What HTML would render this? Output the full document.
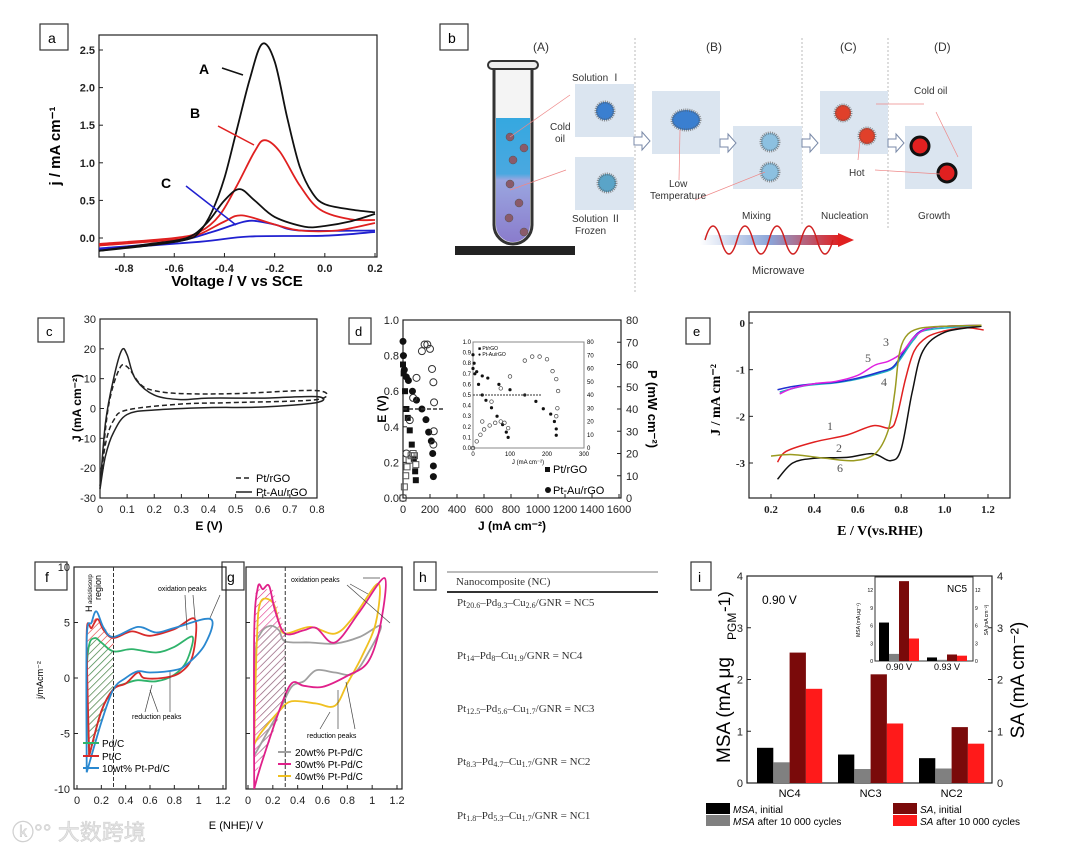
<!DOCTYPE html>
<html><head><meta charset="utf-8">
<style>
html,body{margin:0;padding:0;background:#fff;}
svg{display:block;font-family:"Liberation Sans","Noto Sans CJK SC",sans-serif;}
.ax{fill:none;stroke:#222;stroke-width:1.2}
.tk{font-size:11px;fill:#222}
.lbl{fill:#fff;stroke:#333;stroke-width:1.2}
</style></head>
<body>
<svg id="fig" width="1080" height="852" viewBox="0 0 1080 852">
<defs>
<pattern id="hg" width="5" height="5" patternUnits="userSpaceOnUse" patternTransform="rotate(45)"><line x1="0" y1="0" x2="0" y2="5" stroke="#2fb36b" stroke-width="1.2"/></pattern>
<pattern id="hr" width="5" height="5" patternUnits="userSpaceOnUse" patternTransform="rotate(45)"><line x1="0" y1="0" x2="0" y2="5" stroke="#e03030" stroke-width="1.2"/></pattern>
<pattern id="hk" width="5" height="5" patternUnits="userSpaceOnUse" patternTransform="rotate(45)"><line x1="0" y1="0" x2="0" y2="5" stroke="#888" stroke-width="1.2"/></pattern>
<pattern id="hm" width="5" height="5" patternUnits="userSpaceOnUse" patternTransform="rotate(45)"><line x1="0" y1="0" x2="0" y2="5" stroke="#e0308a" stroke-width="1.2"/></pattern>
<linearGradient id="mw" x1="0" x2="1"><stop offset="0" stop-color="#fff"/><stop offset="0.5" stop-color="#8aa4d8"/><stop offset="1" stop-color="#e02020"/></linearGradient>
<linearGradient id="tube" x1="0" x2="0" y1="0" y2="1"><stop offset="0" stop-color="#35a8e0"/><stop offset="0.45" stop-color="#4aa8e0"/><stop offset="0.5" stop-color="#9aa6e0"/><stop offset="1" stop-color="#8a7ccc"/></linearGradient>
</defs>

<!-- panel labels -->
<g>
<rect class="lbl" x="40" y="24" width="28" height="26"/><text x="48" y="43" font-size="14">a</text>
<rect class="lbl" x="440" y="24" width="28" height="26"/><text x="448" y="43" font-size="14">b</text>
<rect class="lbl" x="38" y="318" width="26" height="24"/><text x="46" y="336" font-size="13">c</text>
<rect class="lbl" x="349" y="318" width="22" height="26"/><text x="355" y="336" font-size="13">d</text>
<rect class="lbl" x="686" y="318" width="24" height="26"/><text x="693" y="336" font-size="13">e</text>
<rect class="lbl" x="35" y="562" width="32" height="28"/><text x="45" y="582" font-size="14">f</text>
<rect class="lbl" x="222" y="562" width="22" height="28"/><text x="227" y="582" font-size="14">g</text>
<rect class="lbl" x="414" y="562" width="22" height="28"/><text x="419" y="582" font-size="14">h</text>
<rect class="lbl" x="691" y="562" width="20" height="28"/><text x="698" y="582" font-size="14">i</text>
</g>

<!-- panel b schematic -->
<g id="pb" font-size="10" fill="#333">
<text x="533" y="51" font-size="12">(A)</text>
<text x="706" y="51" font-size="12">(B)</text>
<text x="840" y="51" font-size="12">(C)</text>
<text x="934" y="51" font-size="12">(D)</text>
<line x1="635" y1="38" x2="635" y2="292" stroke="#bbb" stroke-dasharray="2,2"/>
<line x1="802" y1="38" x2="802" y2="225" stroke="#bbb" stroke-dasharray="2,2"/>
<line x1="888" y1="38" x2="888" y2="230" stroke="#bbb" stroke-dasharray="2,2"/>
<rect x="455" y="246" width="120" height="9" fill="#222"/>
<path d="M494 68 L494 225 A19 19 0 0 0 532 225 L532 68 Z" fill="#f4f4f4" stroke="#333" stroke-width="3"/>
<path d="M496 118 L496 225 A17 17 0 0 0 530 225 L530 118 Z" fill="url(#tube)"/>
<rect x="488" y="61" width="50" height="8" rx="4" fill="#eee" stroke="#333" stroke-width="2"/>
<g fill="#8a5a6a" stroke="#555" stroke-width="0.5">
<circle cx="510" cy="137" r="4"/><circle cx="524" cy="148" r="4"/><circle cx="513" cy="160" r="4"/><circle cx="510" cy="184" r="4"/><circle cx="519" cy="203" r="4"/><circle cx="509" cy="218" r="4"/><circle cx="524" cy="232" r="4"/></g>
<text x="550" y="130">Cold</text><text x="555" y="142">oil</text>
<text x="572" y="81">Solution Ⅰ</text>
<text x="572" y="222">Solution Ⅱ</text><text x="575" y="234">Frozen</text>
<rect x="575" y="84" width="59" height="53" fill="#dbe5f0"/>
<rect x="575" y="157" width="59" height="53" fill="#dbe5f0"/>
<rect x="652" y="91" width="68" height="63" fill="#dbe5f0"/>
<rect x="733" y="126" width="69" height="63" fill="#dbe5f0"/>
<rect x="820" y="91" width="68" height="63" fill="#dbe5f0"/>
<rect x="905" y="126" width="67" height="63" fill="#dbe5f0"/>
<g stroke="#555" stroke-width="0.6">
<circle cx="605" cy="111" r="9" fill="#3a7fd0" stroke-dasharray="1,1" stroke-width="3" stroke-opacity="0.6"/>
<circle cx="607" cy="183" r="9" fill="#5aa4c8" stroke-dasharray="1,1" stroke-width="3" stroke-opacity="0.6"/>
<ellipse cx="686" cy="120" rx="14" ry="10" fill="#3a7fd0" stroke-dasharray="1,1" stroke-width="3" stroke-opacity="0.6"/>
<circle cx="770" cy="142" r="9" fill="#8cc0e0" stroke-dasharray="1,1" stroke-width="3" stroke-opacity="0.6"/>
<circle cx="770" cy="172" r="9" fill="#8cc0e0" stroke-dasharray="1,1" stroke-width="3" stroke-opacity="0.6"/>
<circle cx="843" cy="113" r="8" fill="#e0402a" stroke-dasharray="1,1" stroke-width="3" stroke-opacity="0.6"/>
<circle cx="867" cy="136" r="8" fill="#e0402a" stroke-dasharray="1,1" stroke-width="3" stroke-opacity="0.6"/>
<circle cx="920" cy="146" r="9" fill="#e02020" stroke="#111" stroke-width="3"/>
<circle cx="947" cy="173" r="9" fill="#e02020" stroke="#111" stroke-width="3"/>
</g>
<g fill="#fff" stroke="#7a8aa8">
<path d="M634 137 h8 v-5 l8 9 -8 9 v-5 h-8z"/><path d="M720 139 h8 v-5 l8 9 -8 9 v-5 h-8z"/><path d="M802 139 h8 v-5 l8 9 -8 9 v-5 h-8z"/><path d="M888 139 h8 v-5 l8 9 -8 9 v-5 h-8z"/></g>
<g stroke="#e88" stroke-width="0.7" fill="none">
<line x1="510" y1="137" x2="570" y2="95"/><line x1="510" y1="190" x2="566" y2="170"/><line x1="680" y1="130" x2="679" y2="180"/><line x1="765" y1="172" x2="695" y2="200"/><line x1="876" y1="104" x2="924" y2="104"/><line x1="958" y1="157" x2="936" y2="112"/><line x1="860" y1="140" x2="858" y2="160"/><line x1="940" y1="174" x2="875" y2="170"/></g>
<text x="669" y="187">Low</text><text x="650" y="199">Temperature</text>
<text x="742" y="219">Mixing</text>
<text x="821" y="219">Nucleation</text>
<text x="918" y="219">Growth</text>
<text x="914" y="94">Cold oil</text>
<text x="849" y="176">Hot</text>
<rect x="700" y="235" width="140" height="10" fill="url(#mw)"/>
<path d="M705 240 q8 -28 16 0 t16 0 t16 0 t16 0 t16 0 t16 0 t16 0 t16 0" fill="none" stroke="#d02020" stroke-width="1.5"/>
<path d="M838 233 l16 7 -16 7z" fill="#e02020"/>
<text x="752" y="274" font-size="11">Microwave</text>
</g>

<!-- panel h table -->
<g font-family="Liberation Serif, serif" font-size="11" fill="#333">
<line x1="447" y1="572" x2="658" y2="572" stroke="#777"/>
<text x="456" y="585">Nanocomposite (NC)</text>
<line x1="447" y1="592" x2="658" y2="592" stroke="#333" stroke-width="2"/>
<text x="457" y="606">Pt<tspan font-size="8" dy="2">20.6</tspan><tspan dy="-2">–Pd</tspan><tspan font-size="8" dy="2">9.3</tspan><tspan dy="-2">–Cu</tspan><tspan font-size="8" dy="2">2.6</tspan><tspan dy="-2">/GNR = NC5</tspan></text>
<text x="457" y="659">Pt<tspan font-size="8" dy="2">14</tspan><tspan dy="-2">–Pd</tspan><tspan font-size="8" dy="2">8</tspan><tspan dy="-2">–Cu</tspan><tspan font-size="8" dy="2">1.9</tspan><tspan dy="-2">/GNR = NC4</tspan></text>
<text x="457" y="712">Pt<tspan font-size="8" dy="2">12.5</tspan><tspan dy="-2">–Pd</tspan><tspan font-size="8" dy="2">5.6</tspan><tspan dy="-2">–Cu</tspan><tspan font-size="8" dy="2">1.7</tspan><tspan dy="-2">/GNR = NC3</tspan></text>
<text x="457" y="765">Pt<tspan font-size="8" dy="2">8.3</tspan><tspan dy="-2">–Pd</tspan><tspan font-size="8" dy="2">4.7</tspan><tspan dy="-2">–Cu</tspan><tspan font-size="8" dy="2">1.7</tspan><tspan dy="-2">/GNR = NC2</tspan></text>
<text x="457" y="819">Pt<tspan font-size="8" dy="2">1.8</tspan><tspan dy="-2">–Pd</tspan><tspan font-size="8" dy="2">5.3</tspan><tspan dy="-2">–Cu</tspan><tspan font-size="8" dy="2">1.7</tspan><tspan dy="-2">/GNR = NC1</tspan></text>
</g>

<text x="12" y="840" font-size="22" fill="#e4e4e4" stroke="#ccc" stroke-width="0.5">ⓚ°° 大数跨境</text>
<g id="charts"></g>
</svg>

<script>
// ===== data: panel a (E, j) =====
var aA_fwd = [[-0.9,-0.17],[-0.7,-0.1],[-0.55,-0.02],[-0.5,0.08],[-0.45,0.35],[-0.4,0.8],[-0.35,1.45],[-0.3,2.1],[-0.25,2.58],[-0.2,2.35],[-0.15,1.6],[-0.1,0.95],[-0.05,0.6],[0,0.45],[0.1,0.38],[0.2,0.34]];
var aA_rev = [[0.2,0.32],[0.1,0.22],[0,0.16],[-0.08,0.15],[-0.2,0.28],[-0.28,0.5],[-0.34,0.65],[-0.4,0.5],[-0.47,0.2],[-0.55,0.0],[-0.7,-0.08],[-0.9,-0.17]];
var aB_fwd = [[-0.9,-0.08],[-0.6,0.0],[-0.5,0.08],[-0.42,0.3],[-0.35,0.7],[-0.28,1.15],[-0.24,1.3],[-0.18,1.15],[-0.1,0.7],[-0.02,0.38],[0.1,0.25],[0.2,0.24]];
var aB_rev = [[0.2,0.2],[0.05,0.1],[-0.1,0.1],[-0.2,0.18],[-0.33,0.3],[-0.4,0.22],[-0.5,0.05],[-0.6,-0.02],[-0.9,-0.1]];
var aC_fwd = [[-0.9,-0.14],[-0.6,-0.05],[-0.45,0.08],[-0.35,0.19],[-0.29,0.23],[-0.2,0.18],[-0.1,0.1],[0.2,0.1]];
var aC_rev = [[0.2,0.08],[0,0.03],[-0.3,0.02],[-0.5,-0.05],[-0.9,-0.15]];
var aXTicks = [-0.8,-0.6,-0.4,-0.2,0.0,0.2];
var aYTicks = [0.0,0.5,1.0,1.5,2.0,2.5];
// ===== panel c =====
var cAu = [[0,-27],[0.02,-5],[0.05,10],[0.08,19.5],[0.1,18],[0.13,10],[0.2,4.5],[0.3,3],[0.4,3.5],[0.6,3.5],[0.8,4],[0.8,2],[0.6,0.5],[0.4,0.3],[0.2,-0.5],[0.1,-2],[0.05,-8],[0.02,-16],[0,-27]];
var cPt = [[0,-26],[0.03,0],[0.07,13],[0.1,14],[0.15,8],[0.2,6],[0.3,5],[0.5,5],[0.8,6],[0.8,3],[0.5,2],[0.3,1.5],[0.1,-0.5],[0.05,-4],[0.02,-12],[0,-26]];
var cXTicks = [0,0.1,0.2,0.3,0.4,0.5,0.6,0.7,0.8];
var cYTicks = [-30,-20,-10,0,10,20,30];
// ===== panel d =====
var dAuE = [[0,0.88],[3,0.8],[10,0.72],[25,0.68],[40,0.66],[70,0.6],[100,0.55],[140,0.5],[170,0.44],[190,0.37],[210,0.32],[220,0.25],[225,0.18],[225,0.12]];
var dPtE = [[0,0.75],[5,0.7],[15,0.6],[25,0.5],[35,0.45],[50,0.38],[65,0.3],[80,0.22],[90,0.15],[95,0.1]];
var dAuP = [[0,0],[25,20],[50,35],[75,45],[100,54],[140,66],[160,69],[180,69],[200,67],[215,58],[225,52],[230,43],[228,30],[225,24]];
var dPtP = [[0,0],[10,5],[20,10],[30,14],[45,17],[60,19],[75,20],[85,19],[95,15]];
var dXTicks = [0,200,400,600,800,1000,1200,1400,1600];
var dYTicks = [0.0,0.2,0.4,0.6,0.8,1.0];
var dY2Ticks = [0,10,20,30,40,50,60,70,80];
// ===== panel e =====
var e1 = [[0.23,-2.98],[0.27,-2.75],[0.4,-2.55],[0.55,-2.4],[0.67,-2.2],[0.75,-2.25],[0.78,-2.0],[0.82,-1.2],[0.86,-0.6],[0.92,-0.3],[1.0,-0.17],[1.1,-0.1],[1.18,-0.15]];
var e6 = [[0.23,-3.35],[0.3,-3.0],[0.4,-2.9],[0.55,-2.88],[0.67,-2.8],[0.75,-2.95],[0.8,-2.7],[0.85,-1.5],[0.9,-0.6],[1.0,-0.2],[1.17,-0.07]];
var e2 = [[0.2,-2.85],[0.3,-2.82],[0.45,-2.9],[0.58,-2.95],[0.68,-2.8],[0.74,-2.3],[0.77,-1.5],[0.79,-0.7],[0.82,-0.3],[0.88,-0.12],[1.0,-0.07],[1.17,-0.05]];
var e3 = [[0.23,-1.43],[0.3,-1.36],[0.4,-1.3],[0.5,-1.27],[0.6,-1.18],[0.7,-1.05],[0.76,-0.95],[0.8,-0.7],[0.85,-0.35],[0.9,-0.15],[1.0,-0.07],[1.17,-0.05]];
var e5 = [[0.24,-1.52],[0.3,-1.4],[0.4,-1.3],[0.5,-1.25],[0.6,-1.12],[0.68,-0.9],[0.74,-0.82],[0.8,-0.65],[0.86,-0.3],[0.92,-0.12],[1.0,-0.07],[1.17,-0.05]];
var e4 = [[0.24,-1.48],[0.35,-1.35],[0.5,-1.28],[0.6,-1.2],[0.7,-1.08],[0.76,-0.98],[0.8,-0.75],[0.86,-0.35],[0.92,-0.15],[1.17,-0.05]];
var eXTicks = [0.2,0.4,0.6,0.8,1.0,1.2];
var eYTicks = [0,-1,-2,-3];
// ===== panel f / g =====
var fPd = [[0.1,-7],[0.08,0],[0.1,3],[0.15,3.6],[0.2,3.2],[0.3,2.4],[0.45,2.6],[0.65,2.3],[0.8,2.8],[0.95,3.7],[0.9,1.5],[0.8,0.3],[0.65,-0.3],[0.5,-0.2],[0.4,-0.5],[0.3,-1],[0.2,-3],[0.1,-7]];
var fPt = [[0.1,-7],[0.08,4],[0.12,4.5],[0.17,5.3],[0.22,4.3],[0.3,3.6],[0.45,4.2],[0.6,3.8],[0.8,4.4],[0.97,5.3],[0.95,2],[0.85,0.5],[0.7,0],[0.55,0],[0.5,0.5],[0.4,-0.5],[0.3,-1],[0.2,-3],[0.1,-7]];
var fPtPd = [[0.08,-8.5],[0.08,3.5],[0.12,5],[0.16,6],[0.22,4.5],[0.3,3.7],[0.5,4.6],[0.65,4.1],[0.8,4.5],[1.1,5.3],[1.05,3],[0.9,1.2],[0.8,0.7],[0.6,0.5],[0.5,0.6],[0.4,0],[0.3,-1],[0.2,-4],[0.08,-8.5]];
var g20 = [[0.05,-7],[0.06,2],[0.1,4],[0.18,4.7],[0.25,4.3],[0.3,3.3],[0.5,3.2],[0.7,3.1],[0.9,3.7],[1.07,4.7],[0.98,2.5],[0.85,0.4],[0.7,0.5],[0.55,0.7],[0.45,-0.3],[0.35,-0.8],[0.25,-3],[0.05,-7]];
var g30 = [[0.05,-10],[0.05,4],[0.08,8.2],[0.12,8],[0.17,8.3],[0.22,6],[0.3,4],[0.45,4.3],[0.55,4.5],[0.7,3.2],[0.9,6],[1.1,9],[1.07,5],[0.97,1.5],[0.8,0.2],[0.6,-0.8],[0.45,-0.7],[0.35,-0.5],[0.25,-3],[0.1,-8],[0.05,-10]];
var g40 = [[0.05,-6],[0.07,3],[0.1,6.8],[0.2,6.8],[0.25,5],[0.3,4],[0.5,4.6],[0.7,4],[0.85,5.5],[1.05,8.5],[1.03,5],[0.92,2],[0.8,-0.5],[0.7,-2.5],[0.55,-2.3],[0.35,-2.1],[0.25,-3],[0.1,-5],[0.05,-6]];
var fXTicks = [0,0.2,0.4,0.6,0.8,1,1.2];
var fYTicks = [10,5,0,-5,-10];
// ===== panel i =====
var iCats = ["NC4","NC3","NC2"];
var iMSAinit = [0.68,0.55,0.48];
var iMSAafter = [0.4,0.27,0.28];
var iSAinit = [2.52,2.1,1.08];
var iSAafter = [1.82,1.15,0.76];
var iYTicks = [0,1,2,3,4];
var insCats = ["0.90 V","0.93 V"];
var insMSAinit = [6.5,0.6];
var insMSAafter = [1.2,0.2];
var insSAinit = [13.5,1.1];
var insSAafter = [3.8,0.9];
var insYTicks = [0,3,6,9,12];

var NS = "http://www.w3.org/2000/svg";
var root = document.getElementById('charts');
function mk(tag, attrs, name, parent) {
  var el = document.createElementNS(NS, tag);
  for (var k in attrs) el.setAttribute(k, attrs[k]);
  
  
  (parent || root).appendChild(el);
  return el;
}
function txt(x, y, s, name, extra, parent) {
  var a = {x: x, y: y}; for (var k in extra) a[k] = extra[k];
  var t = mk('text', a, name, parent); t.textContent = s; return t;
}
function lin(d0, d1, r0, r1) { return function (v) { return r0 + (v - d0) / (d1 - d0) * (r1 - r0); }; }
function smooth(pts, X, Y) {
  var p = pts.map(function (q) { return [X(q[0]), Y(q[1])]; });
  var d = 'M' + p[0][0].toFixed(1) + ' ' + p[0][1].toFixed(1);
  for (var i = 0; i < p.length - 1; i++) {
    var p0 = p[i - 1] || p[i], p1 = p[i], p2 = p[i + 1], p3 = p[i + 2] || p2;
    var c1x = p1[0] + (p2[0] - p0[0]) / 6, c1y = p1[1] + (p2[1] - p0[1]) / 6;
    var c2x = p2[0] - (p3[0] - p1[0]) / 6, c2y = p2[1] - (p3[1] - p1[1]) / 6;
    d += ' C' + c1x.toFixed(1) + ' ' + c1y.toFixed(1) + ' ' + c2x.toFixed(1) + ' ' + c2y.toFixed(1) + ' ' + p2[0].toFixed(1) + ' ' + p2[1].toFixed(1);
  }
  return d;
}
function frame(x0, y0, x1, y1, name) { mk('rect', {x: x0, y: y0, width: x1 - x0, height: y1 - y0, 'class': 'ax'}, name); }
function xticks(ticks, X, yb, name, fmt, extra, len) {
  ticks.forEach(function (t) {
    mk('line', {x1: X(t), y1: yb, x2: X(t), y2: yb - (len || 4), stroke: '#222'}, name + '-tick');
    var e = {'text-anchor': 'middle', 'class': 'tk'}; for (var k in extra) e[k] = extra[k];
    txt(X(t), yb + 15, fmt ? fmt(t) : String(t), name + '-label', e);
  });
}
function yticks(ticks, Y, xl, name, fmt, extra, right) {
  ticks.forEach(function (t) {
    mk('line', {x1: xl, y1: Y(t), x2: xl + (right ? -4 : 4), y2: Y(t), stroke: '#222'}, name + '-tick');
    var e = {'text-anchor': right ? 'start' : 'end', 'class': 'tk'}; for (var k in extra) e[k] = extra[k];
    txt(right ? xl + 5 : xl - 4, Y(t) + 4, fmt ? fmt(t) : String(t), name + '-label', e);
  });
}
function curve(pts, X, Y, color, name, w, dash) {
  var a = {d: smooth(pts, X, Y), fill: 'none', stroke: color, 'stroke-width': w || 1.8};
  if (dash) a['stroke-dasharray'] = dash;
  return mk('path', a, name);
}

// ---------- Panel a ----------
(function () {
  var X = lin(-0.9, 0.2, 99, 375), Y = lin(0, 2.5, 238, 50);
  frame(99, 35, 377, 257, 'plot-a-frame');
  xticks(aXTicks, X, 257, 'a-x', function (t) { return t.toFixed(1); }, {'font-weight': 'bold'});
  yticks(aYTicks, Y, 99, 'a-y', function (t) { return t.toFixed(1); }, {'font-weight': 'bold'});
  curve(aC_fwd, X, Y, '#2020d0', 'curve-c-forward'); curve(aC_rev, X, Y, '#2020d0', 'curve-c-reverse');
  curve(aB_fwd, X, Y, '#e02020', 'curve-b-forward'); curve(aB_rev, X, Y, '#e02020', 'curve-b-reverse');
  curve(aA_fwd, X, Y, '#111', 'curve-a-forward'); curve(aA_rev, X, Y, '#111', 'curve-a-reverse');
  txt(199, 74, 'A', 'label-curve-a', {'font-size': 14, 'font-weight': 'bold'});
  mk('line', {x1: 243, y1: 75, x2: 222, y2: 68, stroke: '#111', 'stroke-width': 1.5}, 'arrow-a');
  txt(190, 118, 'B', 'label-curve-b', {'font-size': 14, 'font-weight': 'bold'});
  mk('line', {x1: 254, y1: 145, x2: 218, y2: 126, stroke: '#e02020', 'stroke-width': 1.5}, 'arrow-b');
  txt(161, 188, 'C', 'label-curve-c', {'font-size': 14, 'font-weight': 'bold'});
  mk('line', {x1: 236, y1: 225, x2: 186, y2: 186, stroke: '#2020d0', 'stroke-width': 1.5}, 'arrow-c');
  txt(237, 286, 'Voltage / V vs SCE', 'a-x-title', {'text-anchor': 'middle', 'font-size': 15, 'font-weight': 'bold'});
  txt(0, 0, 'j / mA cm⁻¹', 'a-y-title', {'text-anchor': 'middle', 'font-size': 15, 'font-weight': 'bold', transform: 'translate(60,146) rotate(-90)'});
})();

// ---------- Panel c ----------
(function () {
  var X = lin(0, 0.8, 100, 317), Y = lin(-30, 30, 498, 319);
  frame(100, 319, 317, 498, 'plot-c-frame');
  xticks(cXTicks, X, 498, 'c-x', function (t) { return t === 0 ? '0' : t.toFixed(1); });
  yticks(cYTicks, Y, 100, 'c-y');
  curve(cPt, X, Y, '#222', 'curve-pt-rgo', 1.5, '5,3');
  curve(cAu, X, Y, '#222', 'curve-pt-au-rgo', 1.5);
  mk('line', {x1: 236, y1: 478, x2: 252, y2: 478, stroke: '#222', 'stroke-width': 1.5, 'stroke-dasharray': '5,3'}, 'legend-c-dash');
  txt(256, 482, 'Pt/rGO', 'legend-c-pt', {'font-size': 11});
  mk('line', {x1: 236, y1: 492, x2: 252, y2: 492, stroke: '#222', 'stroke-width': 1.5}, 'legend-c-solid');
  txt(256, 496, 'Pt-Au/rGO', 'legend-c-ptau', {'font-size': 11});
  txt(209, 530, 'E (V)', 'c-x-title', {'text-anchor': 'middle', 'font-size': 12, 'font-weight': 'bold'});
  txt(0, 0, 'J (mA cm⁻²)', 'c-y-title', {'text-anchor': 'middle', 'font-size': 12, 'font-weight': 'bold', transform: 'translate(81,408) rotate(-90)'});
})();

// ---------- Panel d ----------
(function () {
  var X = lin(0, 1600, 403, 619), Y = lin(0, 1, 498, 320), Y2 = lin(0, 80, 498, 320);
  frame(403, 320, 621, 498, 'plot-d-frame');
  xticks(dXTicks, X, 498, 'd-x');
  yticks(dYTicks, Y, 403, 'd-y', function (t) { return t.toFixed(1); });
  yticks(dY2Ticks, Y2, 621, 'd-y2', null, {}, true);
  dAuE.forEach(function (p) { mk('circle', {cx: X(p[0]), cy: Y(p[1]), r: 3.5, fill: '#111'}, 'point-ptau-e'); });
  dPtE.forEach(function (p) { mk('rect', {x: X(p[0]) - 3, y: Y(p[1]) - 3, width: 6, height: 6, fill: '#111'}, 'point-pt-e'); });
  dAuP.forEach(function (p) { mk('circle', {cx: X(p[0]), cy: Y2(p[1]), r: 3.5, fill: 'none', stroke: '#333'}, 'point-ptau-p'); });
  dPtP.forEach(function (p) { mk('rect', {x: X(p[0]) - 3, y: Y2(p[1]) - 3, width: 6, height: 6, fill: 'none', stroke: '#555'}, 'point-pt-p'); });
  mk('line', {x1: 403, y1: Y(0.5), x2: 443, y2: Y(0.5), stroke: '#333', 'stroke-dasharray': '4,2', 'stroke-width': 1.5}, 'd-halfvolt-line');
  // inset
  var IX = lin(0, 300, 473, 584), IY = lin(0, 1, 448, 342), IY2 = lin(0, 80, 448, 342);
  mk('rect', {x: 473, y: 342, width: 111, height: 106, fill: '#fff', stroke: '#888'}, 'inset-d-frame');
  [0, 100, 200, 300].forEach(function (t) { txt(IX(t), 456, String(t), 'inset-d-x-label', {'font-size': 6, 'text-anchor': 'middle'}); });
  [0, 0.1, 0.2, 0.3, 0.4, 0.5, 0.6, 0.7, 0.8, 0.9, 1.0].forEach(function (t) { txt(471, IY(t) + 2, t.toFixed(1), 'inset-d-y-label', {'font-size': 6, 'text-anchor': 'end'}); });
  [0, 10, 20, 30, 40, 50, 60, 70, 80].forEach(function (t) { txt(587, IY2(t) + 2, String(t), 'inset-d-y2-label', {'font-size': 6}); });
  dAuE.forEach(function (p) { mk('circle', {cx: IX(p[0]), cy: IY(p[1]), r: 1.6, fill: '#111'}, 'inset-point-ptau-e'); });
  dPtE.forEach(function (p) { mk('circle', {cx: IX(p[0]), cy: IY(p[1]), r: 1.6, fill: '#111'}, 'inset-point-pt-e'); });
  dAuP.forEach(function (p) { mk('circle', {cx: IX(p[0]), cy: IY2(p[1]), r: 1.8, fill: 'none', stroke: '#444', 'stroke-width': 0.7}, 'inset-point-ptau-p'); });
  dPtP.forEach(function (p) { mk('circle', {cx: IX(p[0]), cy: IY2(p[1]), r: 1.8, fill: 'none', stroke: '#444', 'stroke-width': 0.7}, 'inset-point-pt-p'); });
  mk('line', {x1: 473, y1: IY(0.5), x2: 541, y2: IY(0.5), stroke: '#333', 'stroke-dasharray': '2,1'}, 'inset-halfvolt-line');
  txt(528, 464, 'J (mA cm⁻²)', 'inset-x-title', {'font-size': 6, 'text-anchor': 'middle'});
  txt(478, 350, '■ Pt/rGO', 'inset-legend-1', {'font-size': 5});
  txt(478, 356, '● Pt-Au/rGO', 'inset-legend-2', {'font-size': 5});
  mk('rect', {x: 545, y: 467, width: 5, height: 5, fill: '#111'}, 'legend-d-square');
  txt(553, 473, 'Pt/rGO', 'legend-d-pt', {'font-size': 11});
  mk('circle', {cx: 548, cy: 490, r: 3, fill: '#111'}, 'legend-d-circle');
  txt(553, 494, 'Pt-Au/rGO', 'legend-d-ptau', {'font-size': 11});
  txt(512, 530, 'J (mA cm⁻²)', 'd-x-title', {'text-anchor': 'middle', 'font-size': 12, 'font-weight': 'bold'});
  txt(0, 0, 'E (V)', 'd-y-title', {'text-anchor': 'middle', 'font-size': 12, 'font-weight': 'bold', transform: 'translate(386,409) rotate(-90)'});
  txt(0, 0, 'P (mW cm⁻²)', 'd-y2-title', {'text-anchor': 'middle', 'font-size': 13, 'font-weight': 'bold', transform: 'translate(648,409) rotate(90)'});
})();

// ---------- Panel e ----------
(function () {
  var X = lin(0.2, 1.2, 771, 988), Y = lin(0, -3, 323, 463);
  frame(749, 312, 1010, 498, 'plot-e-frame');
  xticks(eXTicks, X, 498, 'e-x', function (t) { return t.toFixed(1); }, {'font-family': 'Liberation Serif, serif', 'font-weight': 'bold', 'font-size': 12});
  yticks(eYTicks, Y, 749, 'e-y', null, {'font-family': 'Liberation Serif, serif', 'font-weight': 'bold', 'font-size': 12});
  curve(e4, X, Y, '#20b0c0', 'curve-e-4', 1.5);
  curve(e3, X, Y, '#2030d0', 'curve-e-3', 1.5);
  curve(e5, X, Y, '#e020e0', 'curve-e-5', 1.5);
  curve(e1, X, Y, '#e02020', 'curve-e-1', 1.5);
  curve(e6, X, Y, '#111', 'curve-e-6', 1.5);
  curve(e2, X, Y, '#9a9a20', 'curve-e-2', 1.5);
  var s = {'font-size': 12, fill: '#555', 'font-family': 'Liberation Serif, serif'};
  txt(827, 430, '1', 'e-label-1', s); txt(836, 452, '2', 'e-label-2', s); txt(837, 472, '6', 'e-label-6', s);
  txt(883, 346, '3', 'e-label-3', s); txt(865, 362, '5', 'e-label-5', s); txt(881, 386, '4', 'e-label-4', s);
  txt(880, 535, 'E / V(vs.RHE)', 'e-x-title', {'text-anchor': 'middle', 'font-size': 14, 'font-weight': 'bold', 'font-family': 'Liberation Serif, serif'});
  txt(0, 0, 'J / mA cm⁻²', 'e-y-title', {'text-anchor': 'middle', 'font-size': 14, 'font-weight': 'bold', 'font-family': 'Liberation Serif, serif', transform: 'translate(720,400) rotate(-90)'});
})();

// ---------- Panel f ----------
(function () {
  var X = lin(0, 1.2, 77, 223), Y = lin(10, -10, 567, 789);
  frame(74, 567, 226, 789, 'plot-f-frame');
  mk('path', {d: 'M' + X(0.09) + ' ' + Y(-7) + ' L' + X(0.08) + ' ' + Y(4) + ' L' + X(0.15) + ' ' + Y(5.5) + ' L' + X(0.3) + ' ' + Y(3.6) + ' L' + X(0.3) + ' ' + Y(-1) + ' Z', fill: 'url(#hr)'}, 'f-hatch-red');
  mk('path', {d: 'M' + X(0.1) + ' ' + Y(-7) + ' L' + X(0.1) + ' ' + Y(3) + ' L' + X(0.15) + ' ' + Y(3.6) + ' L' + X(0.3) + ' ' + Y(2.4) + ' L' + X(0.3) + ' ' + Y(-1) + ' Z', fill: 'url(#hg)'}, 'f-hatch-green');
  xticks(fXTicks, X, 789, 'f-x', function (t) { return String(t); }, {'font-size': 12});
  yticks(fYTicks, Y, 74, 'f-y', null, {'font-size': 12});
  curve(fPd, X, Y, '#2fb36b', 'curve-pd-c', 1.8);
  curve(fPt, X, Y, '#d82a2a', 'curve-pt-c', 1.8);
  curve(fPtPd, X, Y, '#2a88d0', 'curve-10wt-ptpd', 1.8);
  mk('line', {x1: X(0.3), y1: 567, x2: X(0.3), y2: 789, stroke: '#333', 'stroke-dasharray': '4,2'}, 'f-divider');
  txt(0, 0, 'H', 'f-region-text', {'font-size': 9, transform: 'translate(92,612) rotate(-90)'});
  txt(0, 0, 'ads/desorp', 'f-region-sub', {'font-size': 6, transform: 'translate(92,604) rotate(-90)'});
  txt(0, 0, 'region', 'f-region-text2', {'font-size': 9, transform: 'translate(101,600) rotate(-90)'});
  txt(158, 591, 'oxidation peaks', 'f-oxidation-text', {'font-size': 7});
  txt(132, 719, 'reduction peaks', 'f-reduction-text', {'font-size': 7});
  [[185,595,187,630],[193,595,195,618],[220,595,210,618],[145,712,152,685],[158,712,150,690],[170,712,170,672]].forEach(function (a) {
    mk('line', {x1: a[0], y1: a[1], x2: a[2], y2: a[3], stroke: '#444', 'stroke-width': 0.7}, 'f-annotation-arrow');
  });
  [['Pd/C', '#2fb36b', 747], ['Pt/C', '#d82a2a', 760], ['10wt% Pt-Pd/C', '#2a88d0', 772]].forEach(function (l) {
    mk('line', {x1: 80 + 3, y1: l[2] - 4, x2: 96 + 3, y2: l[2] - 4, stroke: l[1], 'stroke-width': 2}, 'legend-f-swatch');
    txt(102, l[2], l[0], 'legend-f-entry', {'font-size': 10});
  });
  txt(0, 0, 'j/mAcm⁻²', 'f-y-title', {'text-anchor': 'middle', 'font-size': 9, transform: 'translate(43,680) rotate(-90)'});
})();

// ---------- Panel g ----------
(function () {
  var X = lin(0, 1.2, 248, 397), Y = lin(10, -10, 567, 789);
  frame(246, 567, 402, 789, 'plot-g-frame');
  mk('path', {d: 'M' + X(0.05) + ' ' + Y(-9) + ' L' + X(0.06) + ' ' + Y(8) + ' L' + X(0.2) + ' ' + Y(8) + ' L' + X(0.3) + ' ' + Y(4) + ' L' + X(0.3) + ' ' + Y(-2) + ' Z', fill: 'url(#hm)'}, 'g-hatch-magenta');
  mk('path', {d: 'M' + X(0.1) + ' ' + Y(-8) + ' L' + X(0.1) + ' ' + Y(4) + ' L' + X(0.2) + ' ' + Y(4.7) + ' L' + X(0.3) + ' ' + Y(3.3) + ' L' + X(0.3) + ' ' + Y(-2) + ' Z', fill: 'url(#hk)'}, 'g-hatch-gray');
  xticks(fXTicks, X, 789, 'g-x', function (t) { return String(t); }, {'font-size': 12});
  fYTicks.forEach(function (t) { mk('line', {x1: 246, y1: Y(t), x2: 250, y2: Y(t), stroke: '#222'}, 'g-y-tick'); });
  curve(g20, X, Y, '#a0a0a0', 'curve-20wt', 1.8);
  curve(g40, X, Y, '#f0c020', 'curve-40wt', 1.8);
  curve(g30, X, Y, '#e0208a', 'curve-30wt', 1.8);
  mk('line', {x1: X(0.3), y1: 567, x2: X(0.3), y2: 789, stroke: '#333', 'stroke-dasharray': '4,2'}, 'g-divider');
  txt(291, 582, 'oxidation peaks', 'g-oxidation-text', {'font-size': 7});
  txt(307, 738, 'reduction peaks', 'g-reduction-text', {'font-size': 7});
  [[363,578,380,578],[350,584,368,594],[347,585,390,623],[320,729,330,712],[338,729,338,690],[355,729,346,682]].forEach(function (a) {
    mk('line', {x1: a[0], y1: a[1], x2: a[2], y2: a[3], stroke: '#444', 'stroke-width': 0.7}, 'g-annotation-arrow');
  });
  [['20wt% Pt-Pd/C', '#a0a0a0', 756], ['30wt% Pt-Pd/C', '#e0208a', 768], ['40wt% Pt-Pd/C', '#f0c020', 780]].forEach(function (l) {
    mk('line', {x1: 278, y1: l[2] - 4, x2: 291, y2: l[2] - 4, stroke: l[1], 'stroke-width': 2}, 'legend-g-swatch');
    txt(295, l[2], l[0], 'legend-g-entry', {'font-size': 10});
  });
  txt(236, 829, 'E (NHE)/ V', 'fg-x-title', {'text-anchor': 'middle', 'font-size': 11});
})();

// ---------- Panel i ----------
(function () {
  var Y = lin(0, 4, 783, 576);
  frame(747, 576, 992, 783, 'plot-i-frame');
  yticks(iYTicks, Y, 747, 'i-y', null, {'font-size': 15});
  yticks(iYTicks, Y, 992, 'i-y2', null, {'font-size': 15}, true);
  var colors = ['#000', '#808080', '#7a0a0a', '#ff1a1a'];
  var series = [iMSAinit, iMSAafter, iSAinit, iSAafter];
  var names = ['bar-msa-initial', 'bar-msa-after', 'bar-sa-initial', 'bar-sa-after'];
  iCats.forEach(function (c, i) {
    var g0 = 757 + i * 81;
    series.forEach(function (s, j) {
      mk('rect', {x: g0 + j * 16.3, y: Y(s[i]), width: 16.3, height: Y(0) - Y(s[i]), fill: colors[j]}, names[j] + '-' + c.toLowerCase());
    });
    txt(g0 + 32.6, 797, c, 'i-x-label', {'text-anchor': 'middle', 'font-size': 11});
  });
  txt(762, 604, '0.90 V', 'i-potential-label', {'font-size': 12});
  // inset
  var IY = lin(0, 14.2, 661, 577);
  mk('rect', {x: 875, y: 577, width: 98, height: 84, fill: '#fff', stroke: '#333'}, 'inset-i-frame');
  insYTicks.forEach(function (t) { txt(873, IY(t) + 2, String(t), 'inset-i-y-label', {'font-size': 5, 'text-anchor': 'end'}); txt(975, IY(t) + 2, String(t), 'inset-i-y2-label', {'font-size': 5}); });
  var ins = [insMSAinit, insMSAafter, insSAinit, insSAafter];
  insCats.forEach(function (c, i) {
    var g0 = 879 + i * 48;
    ins.forEach(function (s, j) {
      mk('rect', {x: g0 + j * 10, y: IY(s[i]), width: 10, height: IY(0) - IY(s[i]), fill: colors[j]}, 'inset-' + names[j]);
    });
    txt(g0 + 20, 670, c, 'inset-i-x-label', {'text-anchor': 'middle', 'font-size': 9});
  });
  txt(947, 592, 'NC5', 'inset-title', {'font-size': 10});
  txt(0, 0, 'MSA (mA μg⁻¹)', 'inset-y-title', {'font-size': 5, 'text-anchor': 'middle', transform: 'translate(860,620) rotate(-90)'});
  txt(0, 0, 'SA (mA cm⁻²)', 'inset-y2-title', {'font-size': 5, 'text-anchor': 'middle', transform: 'translate(988,620) rotate(-90)'});
  var leg = [[706, 803, colors[0], 'MSA', ', initial'], [706, 815, colors[1], 'MSA', ' after 10 000 cycles'], [893, 803, colors[2], 'SA', ', initial'], [893, 815, colors[3], 'SA', ' after 10 000 cycles']];
  leg.forEach(function (l) {
    mk('rect', {x: l[0], y: l[1], width: 24, height: 11, fill: l[2]}, 'legend-i-swatch');
    var t = txt(l[0] + 27, l[1] + 10, '', 'legend-i-entry', {'font-size': 10});
    var a = document.createElementNS(NS, 'tspan'); a.setAttribute('font-style', 'italic'); a.textContent = l[3]; t.appendChild(a);
    var b = document.createElementNS(NS, 'tspan'); b.textContent = l[4]; t.appendChild(b);
  });
  txt(0, 0, 'MSA (mA μg', 'i-y-title', {'text-anchor': 'middle', 'font-size': 19, transform: 'translate(730,710) rotate(-90)'});
  txt(0, 0, 'PGM', 'i-y-title-sub', {'font-size': 12, transform: 'translate(736,640) rotate(-90)'});
  txt(0, 0, '-1)', 'i-y-title-end', {'font-size': 17, transform: 'translate(730,612) rotate(-90)'});
  txt(0, 0, 'SA (mA cm⁻²)', 'i-y2-title', {'text-anchor': 'middle', 'font-size': 19, transform: 'translate(1024,680) rotate(-90)'});
})();
</script>
</body></html>
